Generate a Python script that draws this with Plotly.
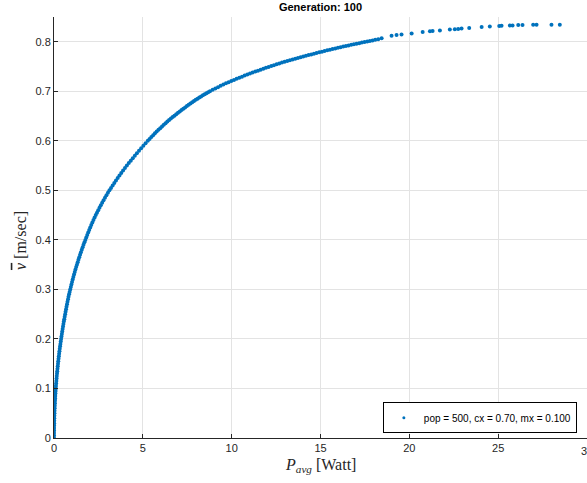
import plotly.graph_objects as go

# Pareto front (P_avg in Watt, mean speed in m/sec)
P_avg = [
    0.0, 0.0003, 0.001, 0.0023, 0.004, 0.006, 0.009, 0.012, 0.016, 0.020,
    0.025, 0.030, 0.036, 0.042, 0.049, 0.056, 0.064, 0.072, 0.081, 0.090,
    0.100, 0.110, 0.121, 0.132, 0.144, 0.156, 0.169, 0.182, 0.196, 0.210,
    0.225, 0.240, 0.256, 0.272, 0.289, 0.306, 0.324, 0.342, 0.361, 0.380,
    0.400, 0.421, 0.442, 0.463, 0.485, 0.507, 0.530, 0.553, 0.577, 0.601,
    0.627, 0.652, 0.678, 0.705, 0.732, 0.760, 0.789, 0.818, 0.848, 0.879,
    0.912, 0.946, 0.981, 1.016, 1.052, 1.089, 1.127, 1.166, 1.206, 1.247,
    1.290, 1.333, 1.377, 1.422, 1.468, 1.515, 1.563, 1.612, 1.662, 1.713,
    1.765, 1.817, 1.870, 1.925, 1.981, 2.039, 2.098, 2.159, 2.221, 2.285,
    2.351, 2.419, 2.489, 2.561, 2.635, 2.711, 2.789, 2.869, 2.951, 3.035,
    3.121, 3.210, 3.301, 3.394, 3.489, 3.586, 3.685, 3.786, 3.889, 3.994,
    4.101, 4.210, 4.321, 4.434, 4.549, 4.666, 4.785, 4.906, 5.029, 5.154,
    5.28, 5.38, 5.48, 5.58, 5.68, 5.78, 5.88, 5.98, 6.08, 6.18,
    6.28, 6.38, 6.48, 6.58, 6.68, 6.78, 6.88, 6.98, 7.08, 7.18,
    7.28, 7.38, 7.48, 7.58, 7.68, 7.78, 7.88, 7.98, 8.08, 8.18,
    8.28, 8.38, 8.48, 8.58, 8.68, 8.78,
    8.93, 9.08, 9.23, 9.38, 9.53, 9.68, 9.83, 9.98, 10.13, 10.28,
    10.43, 10.58, 10.73, 10.88, 11.03, 11.18, 11.33, 11.48, 11.63, 11.78,
    11.93, 12.08, 12.23, 12.38, 12.53, 12.68, 12.83, 12.98, 13.13, 13.28,
    13.43, 13.58, 13.73, 13.88, 14.03, 14.18, 14.33, 14.48, 14.63, 14.78,
    14.93, 15.08, 15.23, 15.38, 15.53, 15.68, 15.83, 15.98, 16.13, 16.28,
    16.43, 16.58, 16.73, 16.88, 17.03, 17.18, 17.33, 17.48, 17.63, 17.78,
    17.93, 18.08,
    18.25, 18.44, 19.00, 19.28, 19.56, 20.13, 20.75, 21.16, 21.31, 21.72,
    22.28, 22.56, 22.75, 22.94, 23.37, 24.07, 24.53, 25.06, 25.19, 25.66,
    25.81, 26.13, 26.37, 26.97, 27.16, 28.00, 28.47,
]
v_bar = [
    0.000, 0.005, 0.010, 0.015, 0.020, 0.025, 0.030, 0.035, 0.040, 0.045,
    0.050, 0.055, 0.060, 0.065, 0.070, 0.075, 0.080, 0.085, 0.090, 0.095,
    0.100, 0.105, 0.110, 0.115, 0.120, 0.125, 0.130, 0.135, 0.140, 0.145,
    0.150, 0.155, 0.160, 0.165, 0.170, 0.175, 0.180, 0.185, 0.190, 0.195,
    0.200, 0.205, 0.210, 0.215, 0.220, 0.225, 0.230, 0.235, 0.240, 0.245,
    0.250, 0.255, 0.260, 0.265, 0.270, 0.275, 0.280, 0.285, 0.290, 0.295,
    0.300, 0.305, 0.310, 0.315, 0.320, 0.325, 0.330, 0.335, 0.340, 0.345,
    0.350, 0.355, 0.360, 0.365, 0.370, 0.375, 0.380, 0.385, 0.390, 0.395,
    0.400, 0.405, 0.410, 0.415, 0.420, 0.425, 0.430, 0.435, 0.440, 0.445,
    0.450, 0.455, 0.460, 0.465, 0.470, 0.475, 0.480, 0.485, 0.490, 0.495,
    0.500, 0.505, 0.510, 0.515, 0.520, 0.525, 0.530, 0.535, 0.540, 0.545,
    0.550, 0.555, 0.560, 0.565, 0.570, 0.575, 0.580, 0.585, 0.590, 0.595,
    0.6000, 0.6039, 0.6077, 0.6114, 0.6151, 0.6187, 0.6222, 0.6256, 0.6290, 0.6323,
    0.6356, 0.6388, 0.6419, 0.6449, 0.6479, 0.6508, 0.6537, 0.6565, 0.6593, 0.6621,
    0.6648, 0.6675, 0.6701, 0.6727, 0.6753, 0.6778, 0.6803, 0.6827, 0.6851, 0.6874,
    0.6897, 0.6919, 0.6941, 0.6962, 0.6982, 0.7002,
    0.7030, 0.7057, 0.7084, 0.7110, 0.7135, 0.7160, 0.7184, 0.7207, 0.7230, 0.7252,
    0.7274, 0.7296, 0.7317, 0.7338, 0.7358, 0.7378, 0.7398, 0.7417, 0.7437, 0.7456,
    0.7474, 0.7492, 0.7510, 0.7528, 0.7545, 0.7562, 0.7579, 0.7595, 0.7611, 0.7627,
    0.7643, 0.7658, 0.7673, 0.7688, 0.7703, 0.7717, 0.7731, 0.7745, 0.7759, 0.7772,
    0.7786, 0.7800, 0.7814, 0.7827, 0.7840, 0.7853, 0.7866, 0.7878, 0.7890, 0.7902,
    0.7914, 0.7926, 0.7938, 0.7949, 0.7961, 0.7972, 0.7983, 0.7995, 0.8006, 0.8017,
    0.8028, 0.8040,
    0.8050, 0.8070, 0.8120, 0.8135, 0.8148, 0.8168, 0.8195, 0.8210, 0.8215, 0.8228,
    0.8250, 0.8255, 0.8260, 0.8270, 0.8280, 0.8300, 0.8310, 0.8317, 0.8323, 0.8329,
    0.8330, 0.8337, 0.8340, 0.8343, 0.8343, 0.8343, 0.8343,
]

x_ticks = [0, 5, 10, 15, 20, 25, 30]
y_ticks = [0, 0.1, 0.2, 0.3, 0.4, 0.5, 0.6, 0.7, 0.8]

legend_label = "pop = 500, cx = 0.70, mx = 0.100"
title_text = "Generation: 100"
blue = "#0072BD"
tick_font = dict(family="Liberation Sans, Arial", size=11, color="#262626")

fig = go.Figure()
fig.add_trace(go.Scatter(
    x=P_avg, y=v_bar, mode="markers", name=legend_label, legendgroup="pop",
    marker=dict(color=blue, size=4, line=dict(width=0)),
    showlegend=False,
))
# legend entry only (small dot like the reference legend)
fig.add_trace(go.Scatter(
    x=[None], y=[None], mode="markers", name=legend_label, legendgroup="pop",
    marker=dict(color=blue, size=3, line=dict(width=0)),
    showlegend=True,
))

axis_common = dict(
    showgrid=True, gridcolor="#e3e3e3", gridwidth=1,
    zeroline=False, showline=True, linecolor="#262626", linewidth=1,
    ticks="inside", ticklen=4, tickcolor="#262626", mirror=False,
    tickfont=tick_font,
)

# last x tick label sits on the page edge (clipped like in the reference)
last_x = x_ticks[-1]

fig.update_layout(
    width=587, height=483,
    margin=dict(l=54, r=0, t=17, b=45, autoexpand=False),
    paper_bgcolor="white", plot_bgcolor="white",
    title=dict(text="<b>" + title_text + "</b>", x=0.5, xref="paper",
               y=1 - 7 / 483, yref="container", yanchor="middle", xanchor="center",
               font=dict(family="Liberation Sans, Arial", size=11, color="black")),
    xaxis=dict(range=[0, 30], tickvals=x_ticks[:-1], automargin=False, **axis_common),
    yaxis=dict(range=[0, 0.85], tickvals=y_ticks, automargin=False, **axis_common),
    showlegend=True,
    legend=dict(x=0.981, xanchor="right", y=0.011, yanchor="bottom",
                bgcolor="white", bordercolor="black", borderwidth=1,
                font=dict(family="Liberation Sans, Arial", size=10, color="black"),
                itemsizing="trace", tracegroupgap=0),
    annotations=[
        dict(text=str(last_x), xref="x", yref="paper", x=last_x, y=0,
             yshift=-5, xanchor="center", yanchor="top", showarrow=False,
             font=tick_font),
        dict(text="<i>P</i><sub><i>avg</i></sub> [Watt]", xref="paper", yref="paper",
             x=0.5, y=-0.066, xanchor="center", yanchor="middle", showarrow=False,
             font=dict(family="Liberation Serif, Times New Roman", size=16, color="#262626")),
        dict(text='<span style="text-decoration:overline"><i>v</i></span> [m/sec]',
             xref="paper", yref="paper",
             x=-0.064, y=0.47, xanchor="center", yanchor="middle", showarrow=False,
             textangle=-90,
             font=dict(family="Liberation Serif, Times New Roman", size=16, color="#262626")),
    ],
)

fig.write_html("out.html", config={"displayModeBar": False})

# remove the default body margin so the figure sits at the page origin
with open("out.html", "r", encoding="utf-8") as f:
    html = f.read()
html = html.replace("<head>", "<head><style>html,body{margin:0;padding:0;}</style>", 1)
with open("out.html", "w", encoding="utf-8") as f:
    f.write(html)
